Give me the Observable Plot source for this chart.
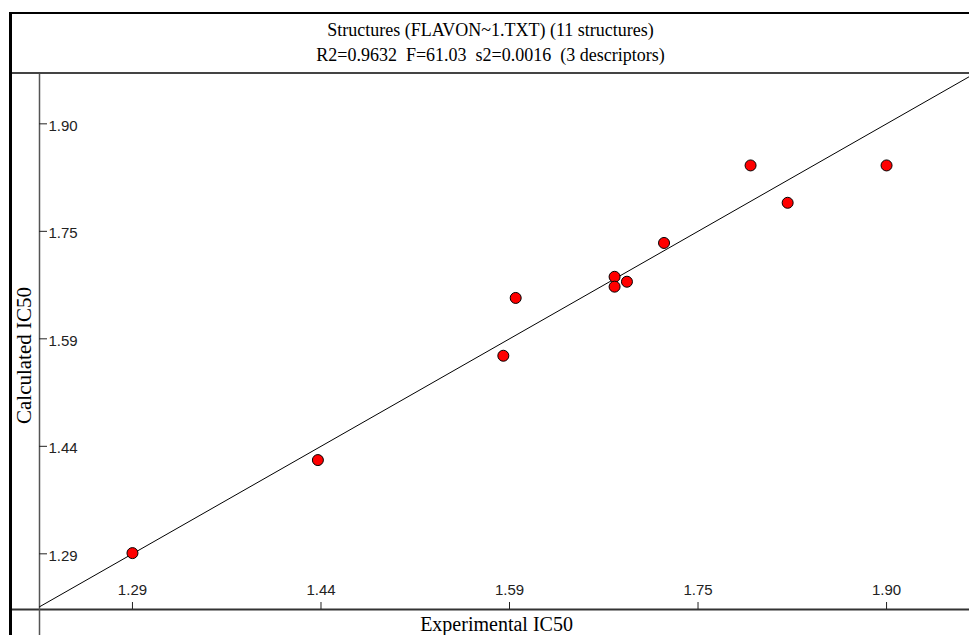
<!DOCTYPE html>
<html>
<head>
<meta charset="utf-8">
<script src="https://cdn.jsdelivr.net/npm/d3@7"></script>
<script src="https://cdn.jsdelivr.net/npm/@observablehq/plot@0.6"></script>
<style>
  html, body { margin: 0; padding: 0; background: #fff; width: 969px; height: 635px; overflow: hidden; }
  #frame { position: absolute; left: 9px; top: 12px; width: 960px; height: 623px;
           border-top: 2px solid #000; border-left: 3px solid #000; box-sizing: border-box; }
  #title { position: absolute; left: 0; top: 0; width: 957px; height: 60px;
           border-bottom: 2px solid #444; box-sizing: border-box; text-align: center;
           font-family: "Liberation Serif", serif; font-size: 18px; line-height: 25px;
           padding-top: 4px; color: #000; }
  #chart { position: absolute; left: 0; top: 60px; }
</style>
</head>
<body>
<div id="frame">
  <div id="title"></div>
  <div id="chart"></div>
</div>
<script>
// ---- data ----
const titleLines = [
  "Structures (FLAVON~1.TXT) (11 structures)",
  "R2=0.9632\u00a0\u00a0F=61.03\u00a0\u00a0s2=0.0016\u00a0\u00a0(3 descriptors)"
];
const xLabel = "Experimental IC50";
const yLabel = "Calculated IC50";

const experimental = [1.29, 1.44, 1.59, 1.60, 1.68, 1.68, 1.69, 1.72, 1.79, 1.82, 1.90];
const calculated   = [1.291, 1.423, 1.571, 1.653, 1.683, 1.669, 1.676, 1.731, 1.841, 1.788, 1.841];

const tickValues = [1.29, 1.4425, 1.595, 1.7475, 1.90];
const tickLabels = ["1.29", "1.44", "1.59", "1.75", "1.90"];

const xDomain = [1.2148, 1.9671];
const yDomain = [1.2110, 1.9700];

// identity reference line (y = x)
const refSlope = 1, refIntercept = 0;

// ---- build ----
document.getElementById("title").innerHTML = titleLines.map(t => `<div>${t}</div>`).join("");

const points = experimental.map((e, i) => ({exp: e, calc: calculated[i]}));
const refLine = xDomain.map(x => ({x, y: refIntercept + refSlope * x}));
const ticks = tickValues.map((v, i) => ({v, label: tickLabels[i]}));

const W = 957, H = 561, ML = 27, MB = 26;
const frameW = W - ML, frameH = H - MB;

const chart = Plot.plot({
  width: W,
  height: H,
  marginLeft: ML,
  marginRight: 0,
  marginTop: 0,
  marginBottom: MB,
  style: {fontFamily: "'Liberation Sans', Arial, sans-serif", background: "transparent", overflow: "visible"},
  x: {domain: xDomain, axis: null},
  y: {domain: yDomain, axis: null},
  marks: [
    // axes lines
    Plot.ruleY([yDomain[0]], {insetLeft: -ML, stroke: "#333", strokeWidth: 2}),
    Plot.ruleX([xDomain[0]], {insetBottom: -MB, stroke: "#555", strokeWidth: 1.5}),
    // tick marks
    Plot.tickX(ticks, {x: "v", insetTop: frameH - 7, stroke: "#222", strokeWidth: 1}),
    Plot.tickY(ticks, {y: "v", insetRight: frameW - 8, stroke: "#222", strokeWidth: 1}),
    // tick labels
    Plot.text(ticks, {x: "v", text: "label", frameAnchor: "bottom", lineAnchor: "bottom",
                      dy: -15, fontSize: 15, fill: "#222"}),
    Plot.text(ticks, {y: "v", text: "label", frameAnchor: "left", textAnchor: "start",
                      dx: 9, dy: 2, fontSize: 15, fill: "#222"}),
    // axis titles
    Plot.text([xLabel], {frameAnchor: "bottom", lineAnchor: "bottom", dx: -8, dy: 21,
                         fontSize: 20, fontFamily: "'Liberation Serif', serif", fill: "#000"}),
    Plot.text([yLabel], {frameAnchor: "left", textAnchor: "middle", rotate: -90, dx: -15, dy: 13.5,
                         fontSize: 21, fontFamily: "'Liberation Serif', serif", fill: "#000"}),
    // reference line
    Plot.line(refLine, {x: "x", y: "y", stroke: "#000", strokeWidth: 1}),
    // points
    Plot.dot(points, {x: "exp", y: "calc", r: 5.5, fill: "#ff0000", stroke: "#000", strokeWidth: 1})
  ]
});
document.getElementById("chart").appendChild(chart);
</script>
</body>
</html>
